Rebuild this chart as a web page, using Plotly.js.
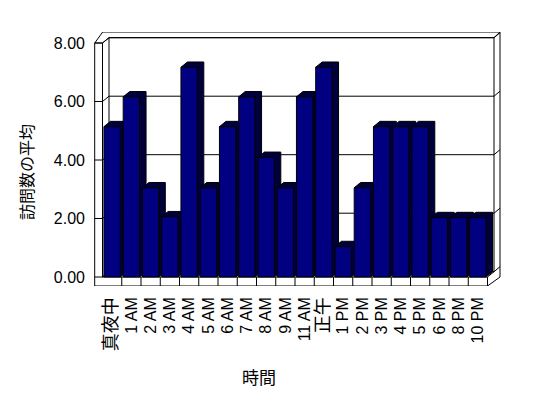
<!DOCTYPE html>
<html>
<head>
<meta charset="utf-8">
<script src="https://cdn.plot.ly/plotly-3.0.1.min.js"></script>
<style>html,body{margin:0;padding:0;background:#fff;}#chart{width:548px;height:398px;}</style>
</head>
<body>
<div id="chart"></div>
<script>
// ---- data ----
const categories = ['真夜中','1 AM','2 AM','3 AM','4 AM','5 AM','6 AM','7 AM','8 AM','9 AM','11 AM','正午','1 PM','2 PM','3 PM','4 PM','5 PM','6 PM','8 PM','10 PM'];
const visits = [5.14, 6.16, 3.05, 2.06, 7.17, 3.05, 5.14, 6.16, 4.09, 3.05, 6.16, 7.17, 1.04, 3.05, 5.14, 5.14, 5.14, 2.03, 2.03, 2.03];
const yTickValues = [0, 2, 4, 6, 8];
const yTickLabels = ['0.00', '2.00', '4.00', '6.00', '8.00'];
const xTitle = '時間';
const yTitle = '訪問数の平均';

// ---- geometry (pixel frame of the 3D box) ----
const W = 548, H = 398;
const L = 94, T = 32, PW = 407, PH = 254;
const PXX = 19.25, PXY = 29.25;          // px per category / per unit
const xr0 = -0.5 - 8.5 / PXX;
const xRange = [xr0, xr0 + PW / PXX];
const yRange = [-9 / PXY, -9 / PXY + PH / PXY];
const X = p => xRange[0] + (p - L) / PXX;
const Y = p => yRange[1] - (p - T) / PXY;
const DX = 6.5, DY = 5.3;                 // depth vector in px
const barW = 0.85;

const shapes = [];
const lineStyle = {color: '#000', width: 1};
function seg(pts) {
  let d = '';
  pts.forEach((p, k) => { d += (k ? ' L ' : 'M ') + X(p[0]) + ',' + Y(p[1]); });
  shapes.push({type: 'path', xref: 'x', yref: 'y', path: d, line: lineStyle, layer: 'below'});
}
const fl = L + 0.7;                       // left wall outer
const fi = L + (-0.5 - xRange[0]) * PXX;  // left wall inner = first category edge
const fr = L + (19.5 - xRange[0]) * PXX;  // floor front right
const y0 = 277, yBot = 286;
const bl = fi + DX, br = fr + DX, orr = 500;

// walls
seg([[fl, 43], [fi, 43]]);
seg([[fl, 43], [fl + 8, T]]);
seg([[fl + 8, T], [orr, T]]);
seg([[fi, 43], [bl, 43 - DY]]);
seg([[bl, 43 - DY], [br, 43 - DY]]);
seg([[br, 43 - DY], [orr, T]]);
seg([[bl, 43 - DY], [bl, y0 - DY]]);
seg([[br, 43 - DY], [br, y0 - DY]]);
seg([[orr, T], [orr, y0]]);
seg([[fl, 43], [fl, yBot]]);
seg([[fi, 43], [fi, y0]]);
// floor
seg([[fl, yBot], [fr, yBot]]);
seg([[fi, y0], [fr, y0]]);
seg([[fr, y0], [fr, yBot]]);
seg([[fr, y0], [br, y0 - DY]]);
seg([[fr, yBot], [orr, y0]]);
seg([[fi, y0], [bl, y0 - DY]]);
seg([[bl, y0 - DY], [br, y0 - DY]]);
categories.forEach((c, i) => {
  const px = L + (i + 0.5 - xRange[0]) * PXX;
  if (i < categories.length - 1) seg([[px, y0], [px, yBot]]);
});
// gridlines on the back wall
yTickValues.forEach(v => {
  const yf = y0 - v * PXY;
  seg([[fl, yf], [fi, yf], [bl, yf - DY], [br, yf - DY], [orr, yf - DY - 5]]);
});

// bar depth faces (top + side), from data
const ddx = DX / PXX, ddy = DY / PXY;
visits.forEach((v, i) => {
  const x0 = i - barW / 2, x1 = i + barW / 2;
  const pts = [[x0, v], [x0 + ddx, v + ddy], [x1 + ddx, v + ddy], [x1 + ddx, ddy], [x1, 0], [x1, v]];
  let d = '';
  pts.forEach((p, k) => { d += (k ? ' L ' : 'M ') + p[0] + ',' + p[1]; });
  d += ' Z';
  shapes.push({type: 'path', xref: 'x', yref: 'y', path: d, fillcolor: '#00003a', line: {color: '#000', width: 1}, layer: 'below'});
});

const font = 'Liberation Sans, Arial, Noto Sans CJK JP, sans-serif';
const cjk = /[\u3040-\u9fff]/;
const tickText = categories.map(c => cjk.test(c) ? '<span style="font-size:18px">' + c + '</span>' : c);

const trace = {
  type: 'bar',
  x: categories.map((c, i) => i),
  y: visits,
  width: barW,
  marker: {color: '#000080', line: {color: '#000', width: 1}},
  hoverinfo: 'skip'
};

const layout = {
  width: W, height: H,
  margin: {l: L, r: W - L - PW, t: T, b: H - T - PH, pad: 0},
  paper_bgcolor: '#fff', plot_bgcolor: 'rgba(0,0,0,0)',
  showlegend: false, hovermode: false,
  font: {family: font, color: '#000', size: 16},
  xaxis: {
    range: xRange, showgrid: false, zeroline: false, showline: false,
    tickmode: 'array', tickvals: categories.map((c, i) => i), ticktext: tickText,
    tickangle: -90, ticks: '', ticklabelstandoff: 7,
    tickfont: {family: font, size: 16, color: '#000'},
    automargin: false, fixedrange: true
  },
  yaxis: {
    range: yRange, showgrid: false, zeroline: false, showline: false,
    tickmode: 'array', tickvals: yTickValues, ticktext: yTickLabels,
    ticks: '', ticklabelstandoff: 8,
    tickfont: {family: font, size: 16, color: '#000'},
    automargin: false, fixedrange: true
  },
  annotations: [
    {text: xTitle, xref: 'paper', yref: 'paper', x: (259 - L) / PW, y: (H - 376 - (H - T - PH)) / PH,
     xanchor: 'center', yanchor: 'middle', showarrow: false,
     font: {family: 'Noto Sans CJK JP, sans-serif', size: 17, color: '#000'}},
    {text: yTitle, xref: 'paper', yref: 'paper', x: (26 - L) / PW, y: (H - 172 - (H - T - PH)) / PH,
     xanchor: 'center', yanchor: 'middle', textangle: -90, showarrow: false,
     font: {family: 'Noto Sans CJK JP, sans-serif', size: 16, color: '#000'}}
  ],
  shapes: shapes
};

Plotly.newPlot('chart', [trace], layout, {displayModeBar: false, staticPlot: true});
</script>
</body>
</html>
